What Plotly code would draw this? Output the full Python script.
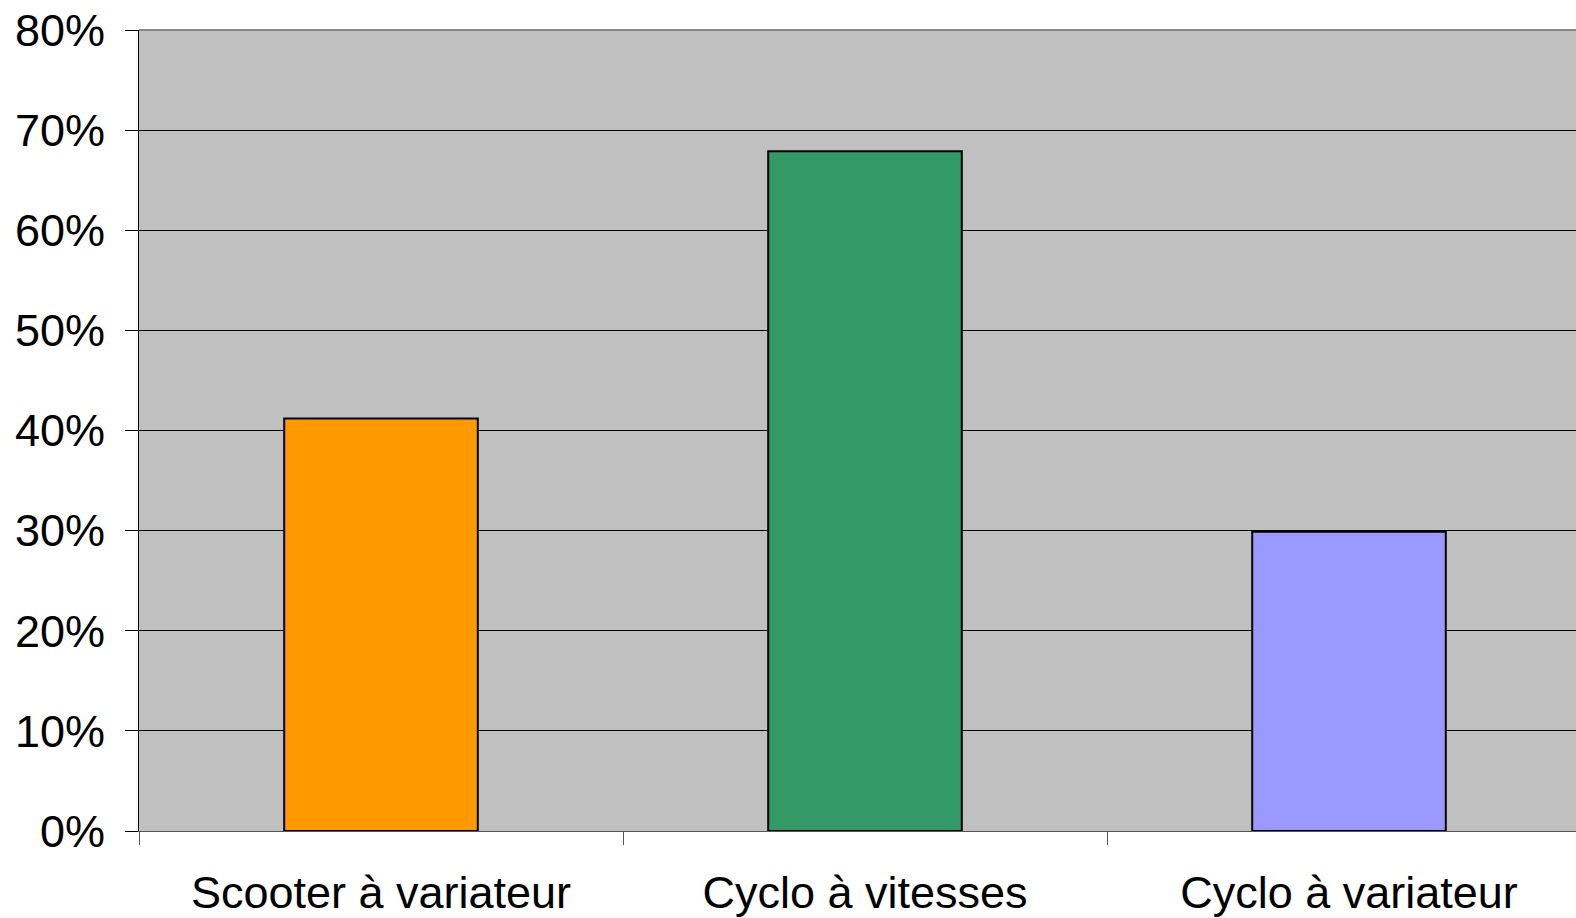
import plotly.graph_objects as go

# --- данные ---------------------------------------------------------------
categories = ["Scooter à variateur", "Cyclo à vitesses", "Cyclo à variateur"]
shares = [0.412, 0.679, 0.299]
bar_colors = ["#FF9900", "#339966", "#9999FF"]
y_ticks = [0, 0.1, 0.2, 0.3, 0.4, 0.5, 0.6, 0.7, 0.8]

FONT = dict(family="Liberation Sans, Arial, sans-serif", color="black", size=45)

fig = go.Figure(
    go.Bar(
        x=categories,
        y=shares,
        width=0.4,
        marker=dict(color=bar_colors, line=dict(color="black", width=2)),
        hovertemplate="%{x}: %{y:.0%}<extra></extra>",
    )
)

fig.update_layout(
    width=1576,
    height=918,
    paper_bgcolor="white",
    plot_bgcolor="#C0C0C0",
    font=FONT,
    margin=dict(l=139, r=0, t=30, b=87),
    showlegend=False,
    bargap=0.6,
)

# категория = 484 px, правый край обрезан
fig.update_xaxes(
    range=[-0.5, -0.5 + (1576 - 139) / 484],
    tickson="boundaries",
    ticks="outside",
    ticklen=13,
    tickcolor="#555555",
    tickwidth=1,
    showline=True,
    linecolor="#555555",
    linewidth=1,
    showgrid=False,
    ticklabelstandoff=22,
)
fig.update_yaxes(
    range=[0, 0.8],
    tickvals=y_ticks,
    tickformat=".0%",
    ticks="outside",
    ticklen=13,
    tickcolor="black",
    tickwidth=1,
    showline=True,
    linecolor="black",
    linewidth=1,
    showgrid=True,
    gridcolor="black",
    gridwidth=1,
    zeroline=False,
    ticklabelstandoff=11,
)

# серая верхняя граница области построения
fig.add_shape(
    type="line", xref="paper", yref="paper", x0=0, x1=1, y0=1, y1=1,
    line=dict(color="#888888", width=2),
)

# убираем стандартный отступ body, чтобы график начинался с (0, 0)
fig.write_html(
    "out.html",
    config={"displayModeBar": False},
    post_script="document.body.style.margin='0';",
)
